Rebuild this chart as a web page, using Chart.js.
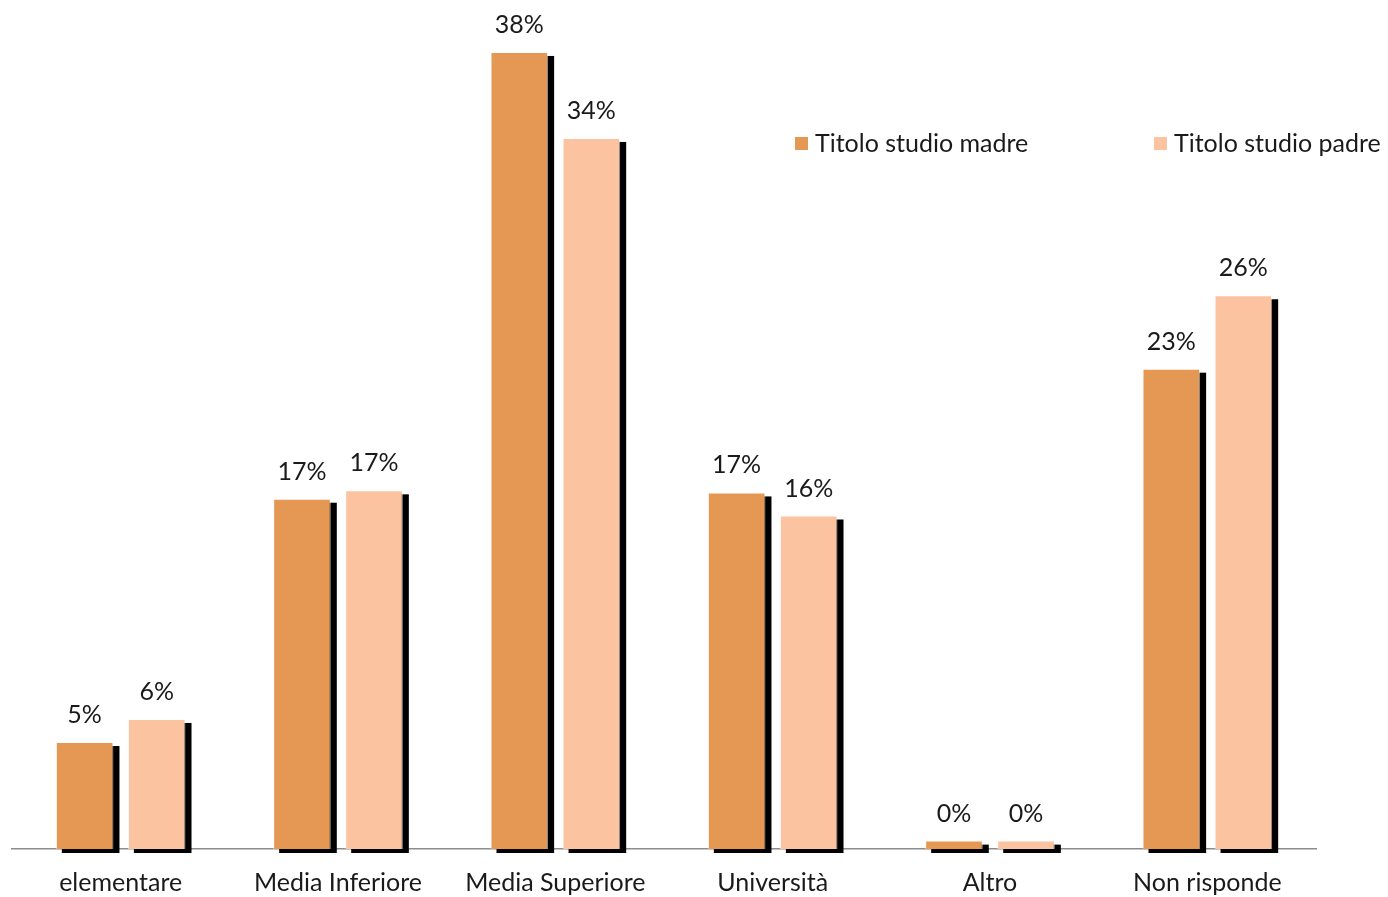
<!DOCTYPE html>
<html>
<head>
<meta charset="utf-8">
<script src="https://cdn.jsdelivr.net/npm/chart.js@4/dist/chart.umd.min.js"></script>
<style>
    html, body { margin: 0; padding: 0; background: #ffffff; }
    #wrap { width: 1388px; height: 897px; position: relative; }
</style>
</head>
<body>
<div id="wrap"><canvas id="studioChart"></canvas></div>
<script>
// Titolo di studio dei genitori (%)
const categories = ['elementare', 'Media Inferiore', 'Media Superiore', 'Università', 'Altro', 'Non risponde'];
const madreValues = [5.1, 16.7, 38.0, 17.0, 0.4, 22.9];
const padreValues = [6.2, 17.1, 33.9, 15.9, 0.4, 26.4];
const seriesNames = ['Titolo studio madre', 'Titolo studio padre'];

const FONT = 'Lato, "Open Sans", sans-serif';
const FONT_SIZE = 25;

// Black drop shadow behind each bar
const barShadow = {
    id: 'barShadow',
    beforeDatasetsDraw(chart) {
        const ctx = chart.ctx;
        ctx.save();
        ctx.fillStyle = '#000000';
        chart.data.datasets.forEach((ds, i) => {
            chart.getDatasetMeta(i).data.forEach(bar => {
                const w = bar.width;
                ctx.fillRect(bar.x - w / 2 + 6, bar.y + 4, w, bar.base - bar.y);
            });
        });
        ctx.restore();
    }
};

// Percent labels above the bars
const valueLabels = {
    id: 'valueLabels',
    afterDatasetsDraw(chart) {
        const ctx = chart.ctx;
        ctx.save();
        ctx.font = FONT_SIZE + 'px ' + FONT;
        ctx.fillStyle = '#1a1a1a';
        ctx.textAlign = 'center';
        ctx.textBaseline = 'middle';
        chart.data.datasets.forEach((ds, i) => {
            chart.getDatasetMeta(i).data.forEach((bar, j) => {
                ctx.fillText(Math.round(ds.data[j]) + '%', bar.x, bar.y - 27);
            });
        });
        ctx.restore();
    }
};

// Legend placed in the upper right
const sideLegend = {
    id: 'sideLegend',
    afterDraw(chart) {
        const ctx = chart.ctx;
        const starts = [795, 1154];
        ctx.save();
        ctx.font = FONT_SIZE + 'px ' + FONT;
        ctx.textBaseline = 'middle';
        chart.data.datasets.forEach((ds, i) => {
            ctx.fillStyle = ds.backgroundColor;
            ctx.fillRect(starts[i], 137, 13, 13);
            ctx.fillStyle = '#1a1a1a';
            ctx.fillText(ds.label, starts[i] + 20, 144);
        });
        ctx.restore();
    }
};

new Chart(document.getElementById('studioChart'), {
    type: 'bar',
    data: {
        labels: categories,
        datasets: [
            {
                label: seriesNames[0],
                data: madreValues,
                backgroundColor: '#E59853',
                borderColor: 'rgba(255,255,255,0.6)',
                borderWidth: 1,
                barPercentage: 0.8,
                categoryPercentage: 0.663
            },
            {
                label: seriesNames[1],
                data: padreValues,
                backgroundColor: '#FCC3A1',
                borderColor: 'rgba(255,255,255,0.6)',
                borderWidth: 1,
                barPercentage: 0.8,
                categoryPercentage: 0.663
            }
        ]
    },
    options: {
        responsive: true,
        maintainAspectRatio: false,
        animation: false,
        layout: { padding: { top: 10, left: 12, right: 72, bottom: -20 } },
        plugins: {
            legend: { display: false },
            tooltip: { enabled: false }
        },
        scales: {
            x: {
                grid: { display: false, drawTicks: false },
                border: { display: true, color: '#8c8c8c', width: 1.5 },
                ticks: {
                    color: '#1a1a1a',
                    font: { family: FONT, size: FONT_SIZE },
                    padding: 19,
                    maxRotation: 0,
                    autoSkip: false
                }
            },
            y: {
                display: false,
                min: 0,
                max: 40
            }
        }
    },
    plugins: [barShadow, valueLabels, sideLegend]
});
</script>
</body>
</html>
